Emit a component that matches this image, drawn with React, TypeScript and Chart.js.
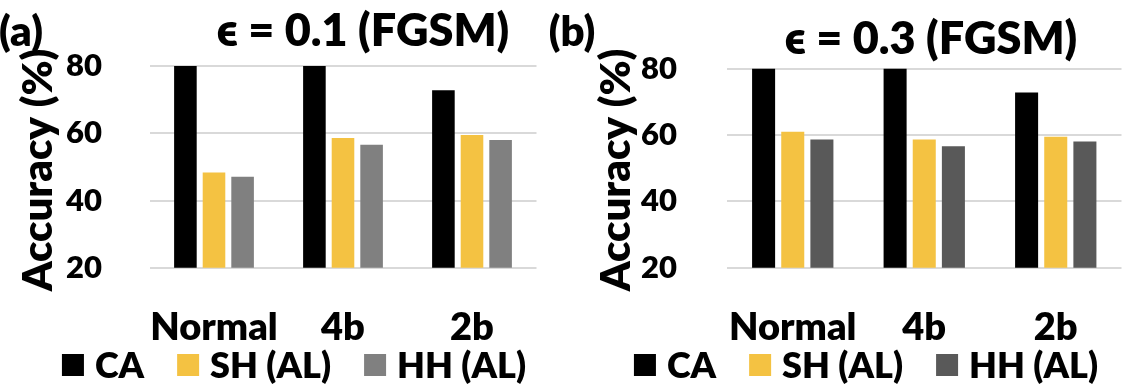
import React, { useEffect, useRef } from 'react';
import { Chart, registerables } from 'chart.js';

Chart.register(...registerables);

// ---- data ----
const categories = ['Normal', '4b', '2b'];
const seriesLabels = ['CA', 'SH (AL)', 'HH (AL)'];
const yTicks = [20, 40, 60, 80];

// (a) eps = 0.1
const caA = [80, 80, 72.8];
const shA = [48.3, 58.6, 59.5];
const hhA = [47.1, 56.6, 58.0];

// (b) eps = 0.3
const caB = [80, 80, 72.8];
const shB = [61.0, 58.6, 59.5];
const hhB = [58.6, 56.6, 58.0];

const panelTitles = ['\u03F5 = 0.1 (FGSM)', '\u03F5 = 0.3 (FGSM)'];
const panelTags = ['(a)', '(b)'];
const yTitle = 'Accuracy (%)';

const FONT = 'Lato, "DejaVu Sans", sans-serif';
const WEIGHT = 800;

type PanelCfg = {
  width: number;
  left: number;
  ca: number[];
  sh: number[];
  hh: number[];
  hhColor: string;
  title: string;
  tag: string;
  padR: number;
  yW: number;
  tickPad: number;
  titleX: number;
  titleY: number;
  tagX: number;
  tagY: number;
  ylabX: number;
  ylabY: number;
  legendCX: number;
};

function Panel({ cfg }: { cfg: PanelCfg }) {
  const ref = useRef<HTMLCanvasElement>(null);
  useEffect(() => {
    const textPlugin = {
      id: 'panelText',
      afterDraw(chart: any) {
        const ctx = chart.ctx as CanvasRenderingContext2D;
        ctx.save();
        ctx.fillStyle = '#000';
        ctx.textAlign = 'center';
        ctx.textBaseline = 'middle';
        // title
        ctx.font = `${WEIGHT} 45px ${FONT}`;
        ctx.fillText(cfg.title, cfg.titleX, cfg.titleY);
        // panel tag
        ctx.font = `${WEIGHT} 42px ${FONT}`;
        ctx.fillText(cfg.tag, cfg.tagX, cfg.tagY);
        // legend (from the chart's datasets)
        const items = chart.data.datasets.map((d: any) => ({ label: d.label, color: d.backgroundColor }));
        ctx.font = `${WEIGHT} 36px ${FONT}`;
        const box = 22;
        const gapText = 11;
        const gapItem = 33;
        const widths = items.map((it: any) => ctx.measureText(it.label).width);
        const total =
          widths.reduce((a: number, w: number) => a + box + gapText + w, 0) + gapItem * (items.length - 1);
        let x = cfg.legendCX - total / 2;
        const cy = 365;
        ctx.textAlign = 'left';
        items.forEach((it: any, i: number) => {
          ctx.fillStyle = it.color;
          ctx.fillRect(x, cy - box / 2, box, box);
          ctx.fillStyle = '#000';
          ctx.fillText(it.label, x + box + gapText, cy + 1);
          x += box + gapText + widths[i] + gapItem;
        });
        // y axis title
        ctx.textAlign = 'center';
        ctx.translate(cfg.ylabX, cfg.ylabY);
        ctx.rotate(-Math.PI / 2);
        ctx.font = `${WEIGHT} 42px ${FONT}`;
        ctx.fillText(yTitle, 0, 0);
        ctx.restore();
      },
    };
    const chart = new Chart(ref.current as HTMLCanvasElement, {
      type: 'bar',
      data: {
        labels: categories,
        datasets: [
          { label: seriesLabels[0], data: cfg.ca, backgroundColor: '#000000', borderWidth: 0 },
          { label: seriesLabels[1], data: cfg.sh, backgroundColor: '#F4C242', borderWidth: 0 },
          { label: seriesLabels[2], data: cfg.hh, backgroundColor: cfg.hhColor, borderWidth: 0 },
        ],
      },
      options: {
        responsive: false,
        animation: false,
        events: [],
        layout: { padding: { left: 0, right: cfg.padR, top: 64.7, bottom: 46 } },
        datasets: { bar: { categoryPercentage: 0.665, barPercentage: 0.79 } },
        scales: {
          x: {
            grid: { display: false },
            border: { display: false },
            ticks: {
              color: '#000',
              font: { family: FONT, size: 38, weight: WEIGHT },
              padding: 29.5,
              maxRotation: 0,
              autoSkip: false,
            },
            afterFit: (s: any) => {
              s.height = 74.3;
            },
          },
          y: {
            min: yTicks[0],
            max: yTicks[yTicks.length - 1],
            afterBuildTicks: (s: any) => {
              s.ticks = yTicks.map((v) => ({ value: v }));
            },
            ticks: {
              color: '#000',
              font: { family: FONT, size: 31, weight: WEIGHT },
              padding: cfg.tickPad,
            },
            grid: { color: '#D9D9D9', lineWidth: 2, drawTicks: false },
            border: { display: false },
            afterFit: (s: any) => {
              s.width = cfg.yW;
            },
          },
        },
        plugins: {
          legend: { display: false },
          title: { display: false },
          tooltip: { enabled: false },
        },
      } as any,
      plugins: [textPlugin],
    });
    return () => chart.destroy();
  }, [cfg]);
  return (
    <canvas
      ref={ref}
      width={cfg.width}
      height={388}
      style={{ position: 'absolute', left: cfg.left, top: 0, width: cfg.width, height: 388 }}
    />
  );
}

const panelA: PanelCfg = {
  width: 550,
  left: 0,
  ca: caA,
  sh: shA,
  hh: hhA,
  hhColor: '#808080',
  title: panelTitles[0],
  tag: panelTags[0],
  padR: 13.5,
  yW: 149.5,
  tickPad: 47.5,
  titleX: 363,
  titleY: 31,
  tagX: 21,
  tagY: 32,
  ylabX: 38,
  ylabY: 170,
  legendCX: 294,
};

const panelB: PanelCfg = {
  width: 578,
  left: 550,
  ca: caB,
  sh: shB,
  hh: hhB,
  hhColor: '#595959',
  title: panelTitles[1],
  tag: panelTags[1],
  padR: 6.5,
  yW: 177,
  tickPad: 50,
  titleX: 381,
  titleY: 39,
  tagX: 22,
  tagY: 32,
  ylabX: 66,
  ylabY: 170,
  legendCX: 316,
};

export default function App() {
  return (
    <div
      style={{
        position: 'fixed',
        left: 0,
        top: 0,
        width: 1128,
        height: 388,
        background: '#ffffff',
        overflow: 'hidden',
      }}
    >
      <Panel cfg={panelA} />
      <Panel cfg={panelB} />
    </div>
  );
}
